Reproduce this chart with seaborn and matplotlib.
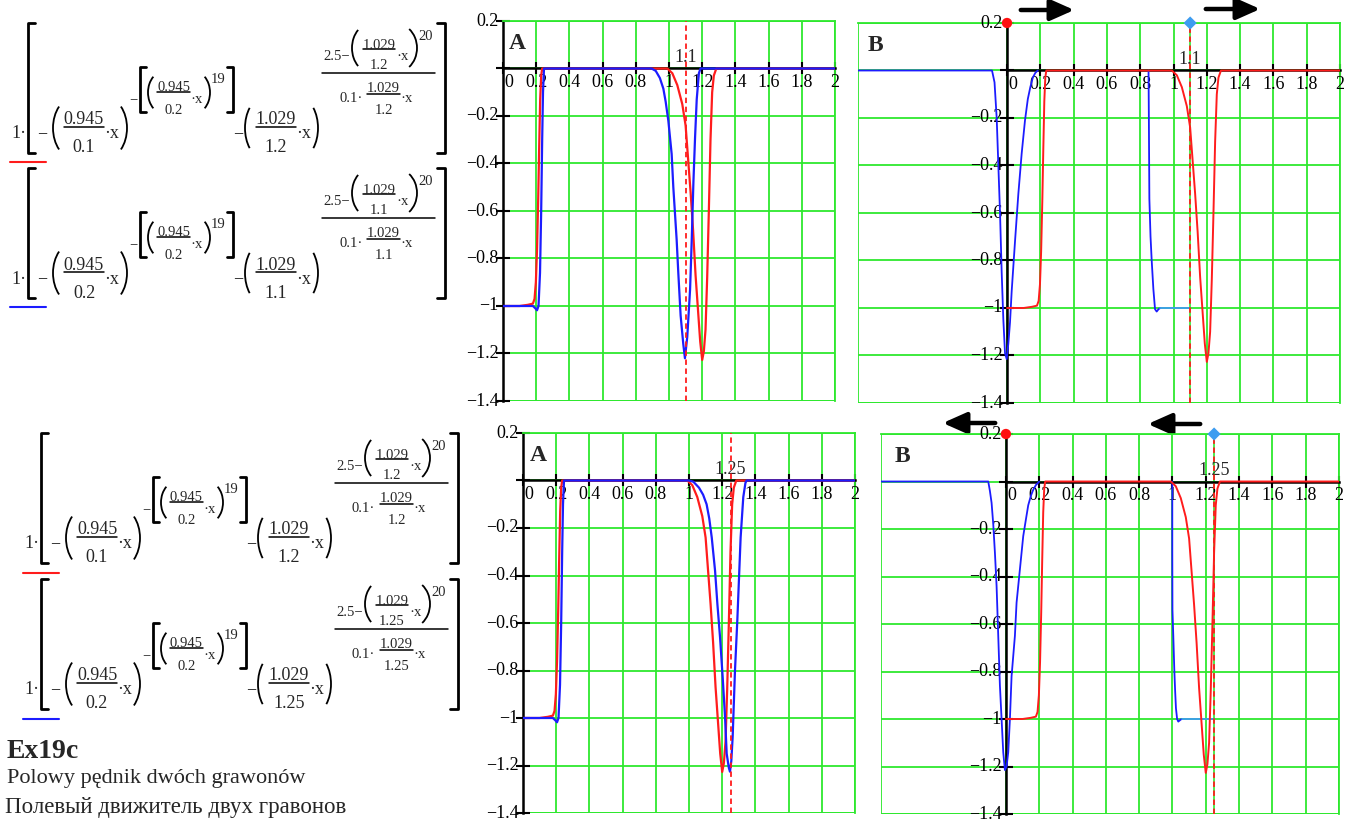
import matplotlib
matplotlib.use("Agg")
import matplotlib.pyplot as plt
import seaborn as sns
from matplotlib.patches import Rectangle, FancyArrowPatch, Arc

sns.set_theme(style="white")
plt.rcParams['font.family'] = ['Liberation Serif', 'DejaVu Serif']

GREEN = "#2ee82e"
RED = "#ff1c1c"
BLUE = "#1c1cff"
LIGHT_BLUE = "#3d9cf0"

W, H = 1347, 821

# red curve, identical in all four plots
red_x = [0, 0.1, 0.15, 0.18, 0.19, 0.198, 0.205, 0.212, 0.218, 0.224, 0.23, 0.236,
         0.99, 1.02, 1.05, 1.08, 1.1, 1.115, 1.13, 1.145, 1.16, 1.175, 1.188, 1.2,
         1.21, 1.22, 1.23, 1.24, 1.25, 1.26, 1.27, 1.285, 2.0]
red_y = [-1, -1, -0.995, -0.99, -0.97, -0.9, -0.76, -0.55, -0.33, -0.13, -0.03, 0,
         0, -0.02, -0.07, -0.15, -0.24, -0.38, -0.52, -0.68, -0.87, -1.02, -1.15, -1.227,
         -1.19, -1.1, -0.88, -0.6, -0.3, -0.1, -0.03, 0, 0]

# blue curve, top A (1.1)
blue_top_a_x = [0, 0.18, 0.195, 0.205, 0.214, 0.223, 0.23, 0.236, 0.241, 0.247,
                0.895, 0.92, 0.945, 0.966, 0.98, 0.996, 1.016, 1.026, 1.046, 1.056,
                1.07, 1.086, 1.096, 1.11, 1.127, 1.137, 1.147, 1.157, 1.167, 1.18, 1.19, 2.0]
blue_top_a_y = [-1, -1, -1.01, -1.018, -1.0, -0.86, -0.6, -0.3, -0.1, 0,
                0, -0.01, -0.04, -0.085, -0.14, -0.22, -0.36, -0.5, -0.72, -0.86,
                -1.04, -1.16, -1.22, -1.13, -0.93, -0.72, -0.48, -0.29, -0.13, -0.02, 0, 0]

# blue curve, bottom A (1.25)
blue_bot_a_x = [0, 0.18, 0.195, 0.205, 0.214, 0.223, 0.23, 0.236, 0.241, 0.247,
                1.0, 1.026, 1.06, 1.085, 1.106, 1.122, 1.137, 1.157, 1.171, 1.187,
                1.203, 1.217, 1.227, 1.24, 1.247, 1.255, 1.263, 1.277, 1.291, 1.303,
                1.311, 1.327, 1.34, 1.347, 2.0]
blue_bot_a_y = [-1, -1, -1.01, -1.018, -1.0, -0.86, -0.6, -0.3, -0.1, 0,
                0, -0.005, -0.03, -0.06, -0.1, -0.16, -0.24, -0.38, -0.52, -0.66,
                -0.83, -0.995, -1.15, -1.21, -1.226, -1.18, -1.08, -0.8, -0.59, -0.38,
                -0.24, -0.07, -0.01, 0, 0]

# blue curve, top B (mirrored run)
blue_top_b1_x = [-0.895, -0.09, -0.075, -0.062, -0.052, -0.042, -0.032, -0.022, -0.012, -0.002,
                 0.008, 0.018, 0.028, 0.048, 0.068, 0.088, 0.108, 0.125, 0.14, 0.155, 0.17, 0.185]
blue_top_b1_y = [0, 0, -0.05, -0.2, -0.4, -0.6, -0.85, -1.05, -1.19, -1.215,
                 -1.15, -1.06, -0.93, -0.72, -0.52, -0.35, -0.21, -0.12, -0.07, -0.03, -0.01, 0]
blue_top_b2_x = [0.85, 0.852, 0.855, 0.862, 0.869, 0.879, 0.889, 0.899, 0.91, 0.92]
blue_top_b2_y = [0, -0.2, -0.54, -0.7, -0.8, -0.92, -1.005, -1.015, -1.005, -1.0]
blue_top_b3_x = [0.92, 1.1]
blue_top_b3_y = [-1.0, -1.0]

# blue curve, bottom B
blue_bot_b1_x = [-0.75, -0.106, -0.096, -0.086, -0.076, -0.066, -0.056, -0.046, -0.036, -0.026,
                 -0.016, -0.006, 0.004, 0.014, 0.024, 0.034, 0.054, 0.064, 0.084, 0.104,
                 0.12, 0.134, 0.15, 0.164, 0.18, 0.194, 0.2]
blue_bot_b1_y = [0, 0, -0.04, -0.09, -0.18, -0.3, -0.44, -0.65, -0.86, -1.0,
                 -1.14, -1.215, -1.2, -1.14, -1.0, -0.82, -0.65, -0.51, -0.37, -0.23,
                 -0.16, -0.1, -0.06, -0.035, -0.015, -0.005, 0]
blue_bot_b2_x = [0.999, 0.999, 1.0, 1.005, 1.011, 1.016, 1.021, 1.028, 1.035, 1.045, 1.055]
blue_bot_b2_y = [0, -0.3, -0.54, -0.65, -0.79, -0.88, -0.955, -1.0, -1.011, -1.005, -1.0]
blue_bot_b3_x = [1.055, 1.25]
blue_bot_b3_y = [-1.0, -1.0]

x_ticks = [0, 0.2, 0.4, 0.6, 0.8, 1.0, 1.2, 1.4, 1.6, 1.8, 2.0]
x_tick_labels = ["0", "0.2", "0.4", "0.6", "0.8", "1", "1.2", "1.4", "1.6", "1.8", "2"]
y_ticks = [0.2, 0, -0.2, -0.4, -0.6, -0.8, -1.0, -1.2, -1.4]
y_tick_labels = ["0.2", "", "\u22120.2", "\u22120.4", "\u22120.6", "\u22120.8", "\u22121", "\u22121.2", "\u22121.4"]

marker_top = 1.1
marker_bot = 1.25

# denominators shown in the four formulas (first term, last term)
formula_dens = [("0.1", "1.2"), ("0.2", "1.1"), ("0.1", "1.2"), ("0.2", "1.25")]


def fx(px):
    return px / W


def fy(py):
    return 1 - py / H


fig = plt.figure(figsize=(W / 100, H / 100), dpi=100)

# overlay in pixel coordinates for the formula sheet
ov = fig.add_axes([0, 0, 1, 1])
ov.set_xlim(0, W)
ov.set_ylim(H, 0)
ov.axis("off")


def make_panel(left, top, right, bottom, xmin, letter, lx, marker, mode):
    ax = fig.add_axes([fx(left), fy(bottom), fx(right) - fx(left), fy(top) - fy(bottom)])
    ax.set_facecolor("white")
    ax.set_xlim(xmin, 2)
    ax.set_ylim(-1.4, 0.2)
    ax.set_xticks(x_ticks)
    ax.set_yticks(y_ticks)
    ax.grid(True, color=GREEN, lw=1.3)
    ax.set_axisbelow(True)
    for s in ["top", "right"]:
        ax.spines[s].set_color(GREEN)
        ax.spines[s].set_linewidth(1.3)
    for s in ["left", "bottom"]:
        ax.spines[s].set_position(("data", 0))
        ax.spines[s].set_color("black")
        ax.spines[s].set_linewidth(1.8)
    ax.spines["bottom"].set_bounds(0, 2)
    ax.add_patch(Rectangle((0, 0), 1, 1, transform=ax.transAxes, fill=False,
                           edgecolor=GREEN, lw=1.3, zorder=0.5))
    ax.tick_params(axis="x", direction="inout", length=8, width=1.5, color="black",
                   labelbottom=False, bottom=True)
    ax.tick_params(axis="y", direction="inout", length=10, width=1.5, color="black",
                   labelleft=False, left=True)
    for t, lab in zip(x_ticks, x_tick_labels):
        dx = 4 if t == 0 else 0
        ax.annotate(lab, (t, 0), xytext=(dx, -4), textcoords="offset points",
                    ha="center", va="top", fontsize=13, color="black")
    for t, lab in zip(y_ticks, y_tick_labels):
        ax.annotate(lab, (0, t), xytext=(-3, 0), textcoords="offset points",
                    ha="right", va="center", fontsize=13, color="black",
                    annotation_clip=False)
    ax.text(lx, 0.94, letter, transform=ax.transAxes,
            fontsize=17, fontweight="bold", ha="left", va="center")
    if mode == "B":
        ax.axvline(marker, color=GREEN, lw=1.2, zorder=2)
    ax.axvline(marker, color=RED, lw=1.3, ls=(0, (3, 2)), zorder=4)
    ax.annotate(f"{marker:g}", (marker, 0), xytext=(0, 2), textcoords="offset points",
                ha="center", va="bottom", fontsize=13)
    return ax


def curve(ax, xs, ys, color, lw, z):
    sns.lineplot(x=xs, y=ys, sort=False, estimator=None, color=color, lw=lw, ax=ax, zorder=z)


# top A
ax1 = make_panel(503, 21, 835, 401, 0, "A", 0.018, marker_top, "A")
curve(ax1, red_x, red_y, RED, 1.6, 3)
curve(ax1, blue_top_a_x, blue_top_a_y, BLUE, 1.6, 3.2)

# top B
ax2 = make_panel(858, 23, 1340, 403, -0.895, "B", 0.021, marker_top, "B")
curve(ax2, blue_top_b1_x, blue_top_b1_y, BLUE, 1.3, 3)
curve(ax2, blue_top_b2_x, blue_top_b2_y, BLUE, 1.3, 3)
curve(ax2, blue_top_b3_x, blue_top_b3_y, LIGHT_BLUE, 1.3, 3)
curve(ax2, red_x, red_y, RED, 1.4, 3.2)

# bottom A
ax3 = make_panel(523, 433, 855, 813, 0, "A", 0.021, marker_bot, "A")
curve(ax3, red_x, red_y, RED, 1.6, 3)
curve(ax3, blue_bot_a_x, blue_bot_a_y, BLUE, 1.6, 3.2)

# bottom B
ax4 = make_panel(881, 434, 1339, 814, -0.75, "B", 0.03, marker_bot, "B")
curve(ax4, blue_bot_b1_x, blue_bot_b1_y, BLUE, 1.3, 3)
curve(ax4, blue_bot_b2_x, blue_bot_b2_y, BLUE, 1.3, 3)
curve(ax4, blue_bot_b3_x, blue_bot_b3_y, LIGHT_BLUE, 1.3, 3)
curve(ax4, red_x, red_y, RED, 1.4, 3.2)

# start markers on the B plots
for ax, m in [(ax2, marker_top), (ax4, marker_bot)]:
    sns.scatterplot(x=[0], y=[0.2], marker="o", color="#ff1010", s=55, ax=ax,
                    clip_on=False, zorder=6, edgecolor="none")
    sns.scatterplot(x=[m], y=[0.2], marker="D", color=LIGHT_BLUE, s=45, ax=ax,
                    clip_on=False, zorder=6, edgecolor="none")


# hand drawn arrows above the B plots
def arrow(x0, x1, y):
    ov.add_patch(FancyArrowPatch((x0, y), (x1, y),
                                 arrowstyle="-|>,head_length=0.9,head_width=0.4",
                                 mutation_scale=16, lw=3.2, color="black"))


arrow(1018, 1077, 10)
arrow(1203, 1263, 9)
arrow(998, 940, 423)
arrow(1203, 1145, 424)


# ---- formula sheet (Mathcad style) ----
BIG, SMALL = 13, 10.5


def paren(x0, x1, y0, y1, left):
    w = x1 - x0
    h = y1 - y0
    a = w / 0.426
    b = (h / 2) / 0.819
    cy = (y0 + y1) / 2
    if left:
        ov.add_patch(Arc((x0 + a, cy), 2 * a, 2 * b, theta1=125, theta2=235, lw=1.3, color="black"))
    else:
        ov.add_patch(Arc((x1 - a, cy), 2 * a, 2 * b, theta1=-55, theta2=55, lw=1.3, color="black"))


def bracket(x0, x1, y0, y1, left):
    if left:
        ov.plot([x1, x0, x0, x1], [y0, y0, y1, y1], color="black", lw=2)
    else:
        ov.plot([x0, x1, x1, x0], [y0, y0, y1, y1], color="black", lw=2)


def draw_formula(bx, by, d1, d3):
    def t(x, y, s, size, ha="center"):
        ov.text(bx + x, by + y, s, fontsize=size, ha=ha, va="center_baseline")

    def bar(x0, x1, y):
        ov.plot([bx + x0, bx + x1], [by + y, by + y], color="black", lw=1.1)

    def pr(x0, x1, y0, y1, left):
        paren(bx + x0, bx + x1, by + y0, by + y1, left)

    def br(x0, x1, y0, y1, left):
        bracket(bx + x0, bx + x1, by + y0, by + y1, left)

    t(-2, 109, "1\u00b7", BIG, "right")
    br(0, 7, 0, 130, True)
    t(14.5, 109, "\u2212", BIG)
    pr(25, 34, 80, 130, True)
    t(56, 95, "0.945", BIG)
    bar(36, 76, 104)
    t(56, 123, d1, BIG)
    t(76, 109, "\u00b7x", BIG, "left")
    pr(90, 99, 80, 130, False)
    # exponent of the first term
    t(105.5, 75, "\u2212", SMALL)
    br(112, 118, 44, 89, True)
    pr(120, 127, 52, 87, True)
    t(145.5, 63, "0.945", SMALL)
    bar(129, 162, 69)
    t(145.5, 86, "0.2", SMALL)
    t(162, 75, "\u00b7x", SMALL, "left")
    pr(175, 182, 52, 87, False)
    t(183, 55, "19", SMALL, "left")
    br(199, 205, 44, 89, False)
    # second term
    t(210.5, 109, "\u2212", BIG)
    pr(217, 225, 80, 130, True)
    t(248, 95, "1.029", BIG)
    bar(228, 268, 104)
    t(248, 123, d3, BIG)
    t(268, 109, "\u00b7x", BIG, "left")
    pr(282, 290, 80, 130, False)
    # exponent of the second term
    bar(294, 407, 50)
    t(295, 32, "2.5\u2212", SMALL, "left")
    pr(324, 332, 5, 45, True)
    t(351, 21, "1.029", SMALL)
    bar(335, 367, 26)
    t(351, 41, d3, SMALL)
    t(368, 32, "\u00b7x", SMALL, "left")
    pr(380, 389, 5, 45, False)
    t(390, 12, "20", SMALL, "left")
    t(311, 74, "0.1\u00b7", SMALL, "left")
    t(355.5, 64, "1.029", SMALL)
    bar(339, 372, 71)
    t(355.5, 86, d3, SMALL)
    t(372, 74, "\u00b7x", SMALL, "left")
    br(409, 417, 0, 130, False)


formula_origins = [(28, 23), (28, 168), (41, 433), (41, 579)]
for (bx, by), (d1, d3) in zip(formula_origins, formula_dens):
    draw_formula(bx, by, d1, d3)

for x0, y0, c in [(10, 162, RED), (10, 307, BLUE), (23, 573, RED), (23, 719, BLUE)]:
    ov.plot([x0, x0 + 36], [y0, y0], color=c, lw=1.5)

ov.text(7, 751, "Ex19c", fontsize=20, fontweight="bold", ha="left", va="center")
ov.text(7, 779, "Polowy pędnik dwóch grawonów", fontsize=16, ha="left", va="center")
ov.text(5, 808, "Полевый движитель двух гравонов", fontsize=16.5, ha="left", va="center")

fig.savefig("out.png", dpi=100)
